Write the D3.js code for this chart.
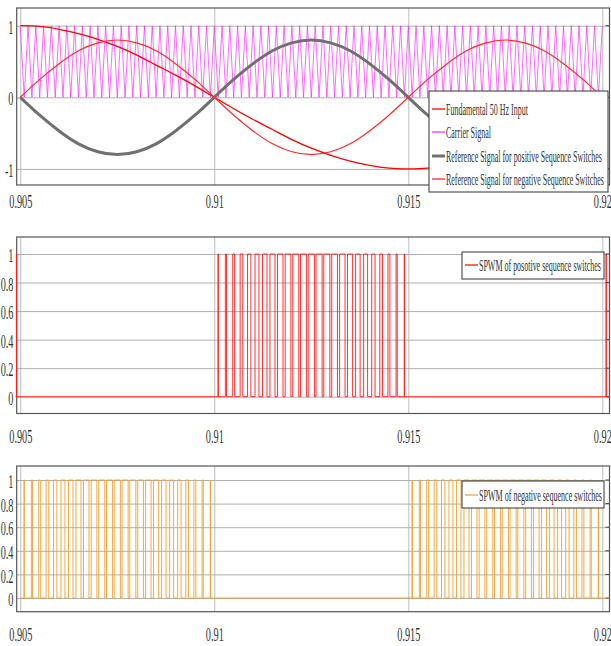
<!DOCTYPE html>
<html>
<head>
<meta charset="utf-8">
<script src="https://cdn.jsdelivr.net/npm/d3@7"></script>
<style>
  body { margin: 0; background: #fff; }
  text { font-family: "Liberation Serif", "Times New Roman", serif; }
</style>
</head>
<body>
<svg width="611" height="646"></svg>
<script>
var svg = d3.select('svg');

// ---- data ----
var xTicks = [0.905, 0.91, 0.915, 0.92];
var xTickLabels = ['0.905', '0.91', '0.915', '0.92'];
var refTicks = [-1, 0, 1];
var refTickLabels = ['-1', '0', '1'];
var switchTicks = [0, 0.2, 0.4, 0.6, 0.8, 1];
var switchTickLabels = ['0', '0.2', '0.4', '0.6', '0.8', '1'];

// sampled every 0.5 ms from 0.905 s
var sampleStart = 0.905;
var sampleStep = 0.0005;
var fundamental = [1, 0.99, 0.95, 0.89, 0.81, 0.71, 0.59, 0.45, 0.31, 0.16, 0,
  -0.16, -0.31, -0.45, -0.59, -0.71, -0.81, -0.89, -0.95, -0.99, -1,
  -0.99, -0.95, -0.89, -0.81, -0.71, -0.59, -0.45, -0.31, -0.16, 0];
var posRef = [0, -0.25, -0.47, -0.65, -0.76, -0.8, -0.76, -0.65, -0.47, -0.25, 0,
  0.25, 0.47, 0.65, 0.76, 0.8, 0.76, 0.65, 0.47, 0.25, 0,
  -0.25, -0.47, -0.65, -0.76, -0.8, -0.76, -0.65, -0.47, -0.25, 0];
var negRef = [0, 0.25, 0.47, 0.65, 0.76, 0.8, 0.76, 0.65, 0.47, 0.25, 0,
  -0.25, -0.47, -0.65, -0.76, -0.8, -0.76, -0.65, -0.47, -0.25, 0,
  0.25, 0.47, 0.65, 0.76, 0.8, 0.76, 0.65, 0.47, 0.25, 0];

// triangle carrier vertices, one every 0.1 ms
var carrierStep = 0.0001;
var carrier = [
  1,0,1,0,1,0,1,0,1,0,1,0,1,0,1,0,1,0,1,0,
  1,0,1,0,1,0,1,0,1,0,1,0,1,0,1,0,1,0,1,0,
  1,0,1,0,1,0,1,0,1,0,1,0,1,0,1,0,1,0,1,0,
  1,0,1,0,1,0,1,0,1,0,1,0,1,0,1,0,1,0,1,0,
  1,0,1,0,1,0,1,0,1,0,1,0,1,0,1,0,1,0,1,0,
  1,0,1,0,1,0,1,0,1,0,1,0,1,0,1,0,1,0,1,0,
  1,0,1,0,1,0,1,0,1,0,1,0,1,0,1,0,1,0,1,0,
  1,0,1,0,1,0,1,0,1,0,1];

// switching pulses inside each 5 ms half cycle (centre in ms, duty)
var pulseCentresMs = [0.1, 0.3, 0.5, 0.7, 0.9, 1.1, 1.3, 1.5, 1.7, 1.9, 2.1, 2.3, 2.5,
  2.7, 2.9, 3.1, 3.3, 3.5, 3.7, 3.9, 4.1, 4.3, 4.5, 4.7, 4.9];
var pulseDuty = [0.05, 0.15, 0.25, 0.34, 0.43, 0.51, 0.58, 0.65, 0.70, 0.74, 0.78, 0.79, 0.80,
  0.79, 0.78, 0.74, 0.70, 0.65, 0.58, 0.51, 0.43, 0.34, 0.25, 0.15, 0.05];
var posWindows = [0.900, 0.910, 0.920];
var negWindows = [0.905, 0.915];

var topLegend = ['Fundamental 50 Hz Input', 'Carrier Signal',
  'Reference Signal  for positive Sequence Switches',
  'Reference Signal  for negative Sequence Switches'];
var posLegend = 'SPWM of posotive sequence switches';
var negLegend = 'SPWM of negative sequence switches';

// ---- layout ----
var left = 16.7, right = 609.5;
var x = d3.scaleLinear().domain([0.905, 0.92]).range([20.3, 602.3]);

var createPanel = function (top, bottom, y, ticks, labels, labelBase, clipId) {
  var g = svg.append('g');

  // vertical grid + x labels
  var xAxis = d3.axisBottom(x).tickValues(xTicks)
    .tickFormat(function (d, i) { return xTickLabels[i]; })
    .tickSize(-(bottom - top)).tickPadding(labelBase - bottom - 13.5);
  var gx = g.append('g').attr('transform', 'translate(0,' + bottom + ')').call(xAxis);
  gx.select('.domain').remove();
  gx.selectAll('line').attr('stroke', '#bdbdbd');
  gx.selectAll('text').attr('font-size', 19).attr('fill', '#333')
    .attr('transform', 'scale(0.54,1)');

  // horizontal grid + y labels
  var yAxis = d3.axisLeft(y).tickValues(ticks)
    .tickFormat(function (d, i) { return labels[i]; })
    .tickSize(-(right - left)).tickPadding(6);
  var gy = g.append('g').attr('transform', 'translate(' + left + ',0)').call(yAxis);
  gy.select('.domain').remove();
  gy.selectAll('line').attr('stroke', '#b0b0b0');
  gy.selectAll('text').attr('font-size', 19).attr('fill', '#333')
    .attr('dy', '0.4em').attr('transform', 'scale(0.54,1)');

  // small inner ticks on the right side
  g.selectAll('.rtick').data(ticks).enter().append('line')
    .attr('x1', right - 4).attr('x2', right)
    .attr('y1', function (d) { return y(d); }).attr('y2', function (d) { return y(d); })
    .attr('stroke', '#444');

  g.append('rect')
    .attr('x', left).attr('y', top).attr('width', right - left).attr('height', bottom - top)
    .attr('fill', 'none').attr('stroke', '#555').attr('stroke-width', 1.2);

  svg.append('clipPath').attr('id', clipId).append('rect')
    .attr('x', 15.5).attr('y', top - 2).attr('width', right - 15.5).attr('height', bottom - top + 4);
  return g;
};

var createLegend = function (x0, y0, w, h, rows) {
  var lg = svg.append('g');
  lg.append('rect').attr('x', x0).attr('y', y0).attr('width', w).attr('height', h)
    .attr('fill', '#fff').attr('stroke', '#333').attr('stroke-width', 1);
  rows.forEach(function (r) {
    lg.append('line').attr('x1', x0 + 3).attr('x2', x0 + 16)
      .attr('y1', r.y).attr('y2', r.y)
      .attr('stroke', r.color).attr('stroke-width', r.width);
    var t = lg.append('text').attr('x', 0).attr('y', 0)
      .attr('font-size', 17).attr('fill', '#333')
      .text(r.text);
    // squeeze the text horizontally to the width seen in the reference
    var natural = t.node().getComputedTextLength();
    t.attr('transform', 'translate(' + (x0 + 17) + ',' + (r.y + 5.5) + ') scale(' + (r.len / natural) + ',1)');
  });
};

var buildPulses = function (windows) {
  var pts = [[windows[0], 0]];
  windows.forEach(function (w) {
    pulseCentresMs.forEach(function (c, k) {
      var mid = w + c / 1000, half = pulseDuty[k] * 0.0001;
      pts.push([mid - half, 0], [mid - half, 1], [mid + half, 1], [mid + half, 0]);
    });
  });
  pts.push([0.925, 0]);
  return pts;
};

// ---- panel 1 ----
var y1 = d3.scaleLinear().domain([-1, 1]).range([168.9, 25.7]);
var p1 = createPanel(8, 185, y1, refTicks, refTickLabels, 208, 'c1');

var sampleLine = d3.line()
  .x(function (d, i) { return x(sampleStart + i * sampleStep); })
  .y(function (d) { return y1(d); })
  .curve(d3.curveNatural);
var carrierLine = d3.line()
  .x(function (d, i) { return x(sampleStart + i * carrierStep); })
  .y(function (d) { return y1(d); });

p1.append('path').datum(carrier).attr('d', carrierLine)
  .attr('fill', 'none').attr('stroke', '#ff22ff').attr('stroke-width', 0.8).attr('opacity', 0.85);
p1.append('path').datum(fundamental).attr('d', sampleLine)
  .attr('fill', 'none').attr('stroke', '#ff0000').attr('stroke-width', 1.3);
p1.append('path').datum(posRef).attr('d', sampleLine)
  .attr('fill', 'none').attr('stroke', '#707070').attr('stroke-width', 3);
p1.append('path').datum(negRef).attr('d', sampleLine)
  .attr('fill', 'none').attr('stroke', '#ff2a2a').attr('stroke-width', 1.2);

createLegend(429, 91, 179, 101, [
  {y: 109, color: '#ff0000', width: 1.3, text: topLegend[0], len: 82},
  {y: 132, color: '#ff22ff', width: 1.2, text: topLegend[1], len: 45},
  {y: 156, color: '#707070', width: 3, text: topLegend[2], len: 156},
  {y: 179, color: '#ff2a2a', width: 1.3, text: topLegend[3], len: 158}
]);

// ---- panel 2 ----
var y2 = d3.scaleLinear().domain([0, 1]).range([396.7, 254]);
var p2 = createPanel(237, 413.5, y2, switchTicks, switchTickLabels, 443, 'c2');
var pulseLine2 = d3.line()
  .x(function (d) { return x(d[0]); })
  .y(function (d) { return y2(d[1]); });
p2.append('path').datum(buildPulses(posWindows)).attr('d', pulseLine2)
  .attr('clip-path', 'url(#c2)')
  .attr('fill', 'none').attr('stroke', '#ff1a1a').attr('stroke-width', 0.9);

createLegend(462, 252, 142, 27, [
  {y: 265, color: '#ff0000', width: 1.2, text: posLegend, len: 122}
]);

// ---- panel 3 ----
var y3 = d3.scaleLinear().domain([0, 1]).range([598, 480]);
var p3 = createPanel(466, 611.7, y3, switchTicks, switchTickLabels, 641, 'c3');
var pulseLine3 = d3.line()
  .x(function (d) { return x(d[0]); })
  .y(function (d) { return y3(d[1]); });
p3.append('path').datum(buildPulses(negWindows)).attr('d', pulseLine3)
  .attr('clip-path', 'url(#c3)')
  .attr('fill', 'none').attr('stroke', '#f0a030').attr('stroke-width', 0.9);

createLegend(462, 481, 142, 27, [
  {y: 495, color: '#f0a030', width: 1.2, text: negLegend, len: 123}
]);
</script>
</body>
</html>
